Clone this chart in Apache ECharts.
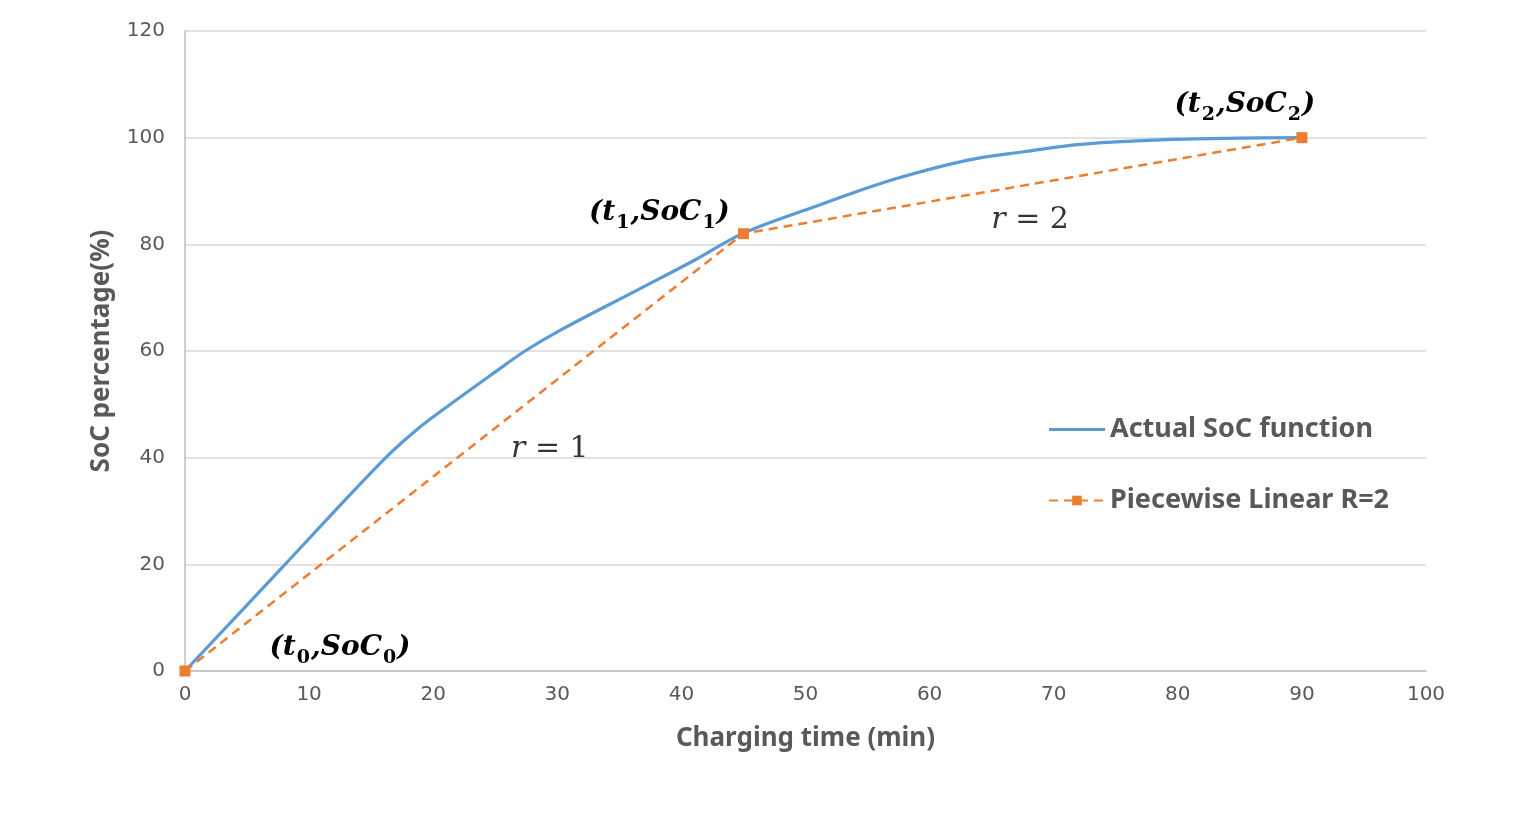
<!DOCTYPE html>
<html>
<head>
<meta charset="utf-8">
<script src="https://cdn.jsdelivr.net/npm/echarts@6/dist/echarts.min.js"></script>
<style>
html,body{margin:0;padding:0;background:#fff;}
#chart{width:1519px;height:815px;}
</style>
</head>
<body>
<div id="chart"></div>
<script>
// ---- data ----
const actualTime = [0, 7.95, 11.95, 16.3, 18.7, 21.2, 24.9, 27.4, 30.4, 36.6, 41.2, 45, 50.8, 57.0, 63.1, 67.7, 72.4, 78.6, 84.8, 90];
const actualSoC  = [0, 19.7, 29.7, 40.3, 45.3, 49.7, 55.9, 60.0, 64.1, 71.6, 77.2, 82.1, 87.1, 92.1, 95.8, 97.4, 98.8, 99.6, 99.9, 100];
const pieceTime = [0, 45, 90];
const pieceSoC  = [0, 82, 100];
const pointLabels = ['{p|(t}{s|0}{p|,SoC}{s|0}{p|)}', '{p|(t}{s|1}{p|,SoC}{s|1}{p|)}', '{p|(t}{s|2}{p|,SoC}{s|2}{p|)}'];
const rateLabels = ['{r|r}{n| = 1}', '{r|r}{n| = 2}'];
const rateTime = [29.4, 68.1];
const rateSoC = [41.6, 84.5];
const seriesNames = ['Actual SoC function', 'Piecewise Linear R=2'];
const xTicks = {min: 0, max: 100, interval: 10};
const yTicks = {min: 0, max: 120, interval: 20};

const gray = '#595959';
const mathRich = {
  p: {fontFamily: 'DejaVu Serif', fontStyle: 'italic', fontWeight: 'bold', fontSize: 28, color: '#000', lineHeight: 32, verticalAlign: 'middle'},
  s: {fontFamily: 'DejaVu Serif', fontWeight: 'bold', fontSize: 19, color: '#000', lineHeight: 40, verticalAlign: 'bottom', padding: [0, 1, 0, 1]},
  r: {fontFamily: 'DejaVu Serif', fontStyle: 'italic', fontSize: 30, color: '#000'},
  n: {fontFamily: 'DejaVu Serif', fontSize: 30, color: '#000'}
};
const labelOffsets = [[155, -23], [-84, -21], [-57, -33]];

const chart = echarts.init(document.getElementById('chart'));
chart.setOption({
  animation: false,
  backgroundColor: '#fff',
  grid: {left: 185, right: 93, top: 31, bottom: 144},
  legend: {
    orient: 'vertical', left: 1043, top: 411, itemGap: 44,
    itemWidth: 56, itemHeight: 12,
    textStyle: {fontSize: 27, fontWeight: 'bold', color: gray, fontFamily: 'Noto Sans'},
    data: [
      {name: seriesNames[0], icon: 'path://M0,0h56v3H0z'},
      {name: seriesNames[1]}
    ]
  },
  xAxis: {
    type: 'value', min: xTicks.min, max: xTicks.max, interval: xTicks.interval,
    name: 'Charging time (min)', nameLocation: 'middle', nameGap: 55,
    nameTextStyle: {fontSize: 26, fontWeight: 'bold', color: gray, fontFamily: 'Noto Sans'},
    axisLine: {show: true, lineStyle: {color: '#bfbfbf', width: 1.5}},
    axisTick: {show: false},
    axisLabel: {fontSize: 20, color: gray, margin: 14, fontFamily: 'DejaVu Sans'},
    splitLine: {show: false}
  },
  yAxis: {
    type: 'value', min: yTicks.min, max: yTicks.max, interval: yTicks.interval,
    name: 'SoC percentage(%)', nameLocation: 'middle', nameGap: 70,
    nameTextStyle: {fontSize: 26, fontWeight: 'bold', color: gray, fontFamily: 'Noto Sans'},
    axisLine: {show: true, lineStyle: {color: '#bfbfbf', width: 1.5}},
    axisTick: {show: false},
    axisLabel: {fontSize: 20, color: gray, margin: 20, fontFamily: 'DejaVu Sans'},
    splitLine: {show: true, lineStyle: {color: '#d9d9d9', width: 1.5}}
  },
  series: [
    {
      name: seriesNames[0], type: 'line', smooth: 0.35, symbol: 'none',
      lineStyle: {color: '#5b9bd5', width: 3.2},
      itemStyle: {color: '#5b9bd5'},
      data: actualTime.map((t, i) => [t, actualSoC[i]]),
      z: 2
    },
    {
      name: seriesNames[1], type: 'line', symbol: 'rect', symbolSize: 11, clip: false,
      lineStyle: {color: '#ed7d31', width: 2.5, type: [9, 6]},
      itemStyle: {color: '#ed7d31'},
      data: pieceTime.map((t, i) => ({
        value: [t, pieceSoC[i]],
        label: {show: true, position: 'inside', offset: labelOffsets[i], formatter: pointLabels[i], rich: mathRich, align: 'center', verticalAlign: 'middle'}
      })),
      z: 3
    },
    {
      name: 'rateLabels', type: 'scatter', symbolSize: 1, silent: true,
      itemStyle: {color: 'rgba(0,0,0,0)'},
      data: rateTime.map((t, i) => ({
        value: [t, rateSoC[i]],
        label: {show: true, position: 'inside', formatter: rateLabels[i], rich: mathRich, align: 'center', verticalAlign: 'middle'}
      })),
      z: 4
    }
  ]
});
</script>
</body>
</html>
